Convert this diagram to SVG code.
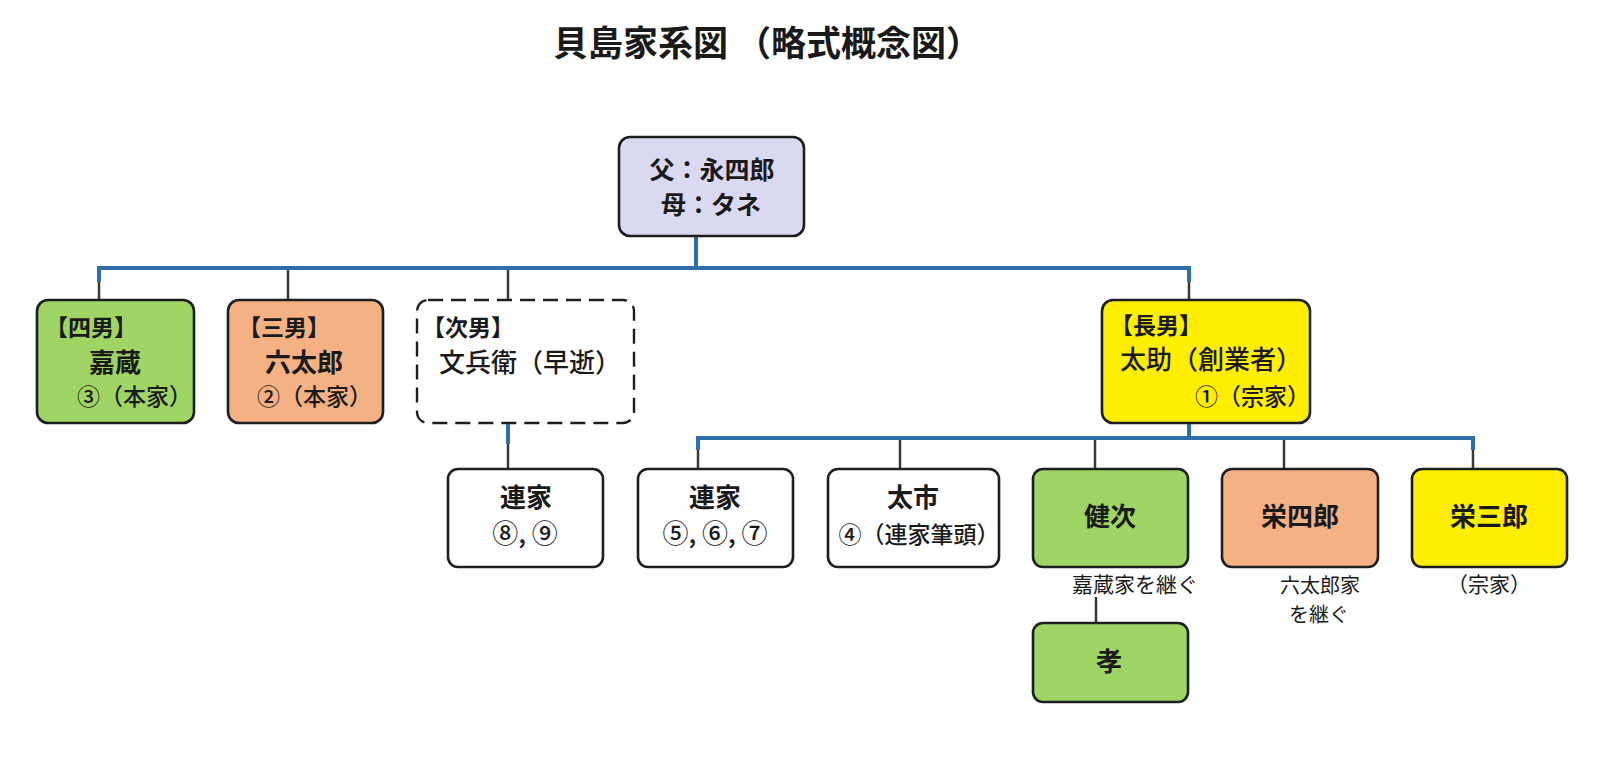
<svg xmlns="http://www.w3.org/2000/svg" width="1600" height="765" viewBox="0 0 1600 765">
<style>
text{font-family:"Noto Sans CJK JP","Noto Sans CJK SC",sans-serif;fill:#1a1a1a}
.box{stroke:#1e1e1e;stroke-width:2.6}
.dash{fill:#ffffff;stroke:#1e1e1e;stroke-width:2.4;stroke-dasharray:15 8}
.lav{fill:#d9d9f1}.grn{fill:#9fd564}.sal{fill:#f4b183}.yel{fill:#ffee00}.wht{fill:#ffffff}
.bus{fill:none;stroke:#2e6eaa;stroke-width:4}
.drop{fill:none;stroke:#3a3a3a;stroke-width:2.5}
.t{font-size:35px;font-weight:bold}
.par{font-size:25px;font-weight:bold}
.lbl{font-size:23px;font-weight:bold}
.nm{font-size:26px;font-weight:bold}
.nmr{font-size:26px;font-weight:500}
.sub{font-size:23px;font-weight:500}
.num{font-size:26px;font-weight:500}
.note{font-size:21px}
.note2{font-size:20px}
.m{text-anchor:middle}
</style>
<rect width="1600" height="765" fill="#ffffff"/>
<text id="title" class="t" x="553" y="56">貝島家系図 （略式概念図）</text>
<g id="connectors">
<path class="drop" d="M99 270V300M288 270V300M508 270V300M1189 270V300"/>
<path class="bus" d="M696 236V268M99 282V268H1189V282"/>
<path class="drop" d="M698 440V469M900 440V469M1095 440V469M1284 440V469M1473 440V469"/>
<path class="bus" d="M1189 423V438M698 450V438H1473V450"/>
<path class="bus" d="M508 423V444"/>
<path class="drop" d="M508 444V469"/>
<path class="drop" d="M1096 597V623"/>
</g>
<g id="parents">
<rect class="box lav" x="619" y="137" width="185" height="99" rx="11"/>
<text class="par m" x="712" y="179">父：永四郎</text>
<text class="par m" x="711" y="214">母：タネ</text>
</g>
<g id="n4">
<rect class="box grn" x="37" y="300" width="157" height="123" rx="11"/>
<text class="lbl m" x="91" y="336">【四男】</text>
<text class="nm m" x="115" y="372">嘉蔵</text>
<text class="sub" x="77" y="405">③（本家）</text>
</g>
<g id="n3">
<rect class="box sal" x="228" y="300" width="155" height="123" rx="11"/>
<text class="lbl m" x="284" y="336">【三男】</text>
<text class="nm m" x="304" y="372">六太郎</text>
<text class="sub" x="257" y="405">②（本家）</text>
</g>
<g id="n2">
<rect class="dash" x="417" y="300" width="217" height="123" rx="11"/>
<text class="lbl m" x="468" y="336">【次男】</text>
<text class="nmr" x="439" y="372">文兵衛（早逝）</text>
</g>
<g id="n1">
<rect class="box yel" x="1102" y="300" width="208" height="123" rx="11"/>
<text class="lbl m" x="1156" y="334">【長男】</text>
<text class="nmr" x="1120" y="369">太助（創業者）</text>
<text class="sub" x="1195" y="405">①（宗家）</text>
</g>
<g id="ren89">
<rect class="box wht" x="448" y="469" width="155" height="98" rx="10"/>
<text class="nm m" x="526" y="507">連家</text>
<text class="num m" x="525" y="543">⑧, ⑨</text>
</g>
<g id="ren567">
<rect class="box wht" x="638" y="469" width="155" height="98" rx="10"/>
<text class="nm m" x="715" y="507">連家</text>
<text class="num m" x="715" y="543">⑤, ⑥, ⑦</text>
</g>
<g id="taichi">
<rect class="box wht" x="828" y="469" width="171" height="98" rx="10"/>
<text class="nm m" x="913" y="507">太市</text>
<text class="sub m" x="919" y="543">④（連家筆頭）</text>
</g>
<g id="kenji">
<rect class="box grn" x="1033" y="469" width="155" height="98" rx="10"/>
<text class="nm m" x="1110" y="526">健次</text>
<text class="note m" x="1135" y="592">嘉蔵家を継ぐ</text>
</g>
<g id="eishiro">
<rect class="box sal" x="1222" y="469" width="156" height="98" rx="10"/>
<text class="nm m" x="1300" y="526">栄四郎</text>
<text class="note2 m" x="1320" y="593">六太郎家</text>
<text class="note2 m" x="1319" y="622">を継ぐ</text>
</g>
<g id="eisaburo">
<rect class="box yel" x="1412" y="469" width="155" height="98" rx="10"/>
<text class="nm m" x="1489" y="526">栄三郎</text>
<text class="note m" x="1489" y="592">（宗家）</text>
</g>
<g id="takashi">
<rect class="box grn" x="1033" y="623" width="155" height="79" rx="10"/>
<text class="nm m" x="1109" y="671">孝</text>
</g>
</svg>
